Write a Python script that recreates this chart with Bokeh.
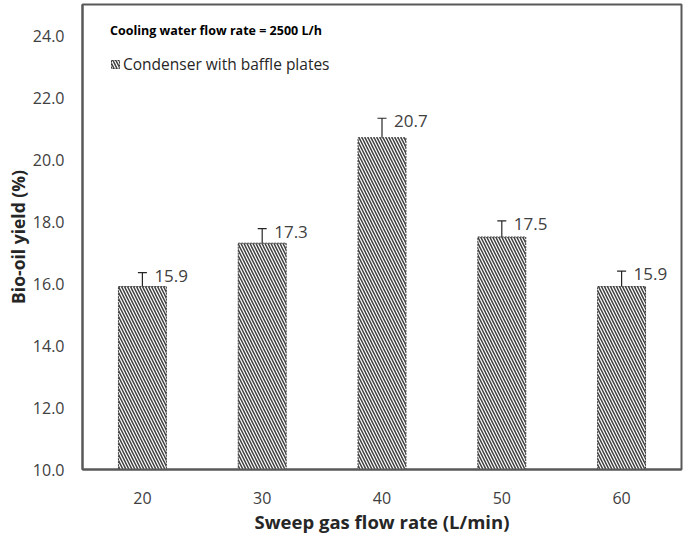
from bokeh.plotting import figure
from bokeh.models import (ColumnDataSource, Range1d, FixedTicker, PrintfTickFormatter,
                          Whisker, TeeHead, LabelSet, Legend, LegendItem)
from bokeh.core.properties import value
from bokeh.embed import file_html
from bokeh.resources import INLINE

categories = ["20", "30", "40", "50", "60"]
yields = [15.9, 17.3, 20.7, 17.5, 15.9]
errors = [0.45, 0.47, 0.63, 0.52, 0.5]
y_ticks = [10, 12, 14, 16, 18, 20, 22, 24]

FONT = "Open Sans"

src = ColumnDataSource(dict(
    x=categories,
    y=yields,
    upper=[v + e for v, e in zip(yields, errors)],
    lower=[v - e for v, e in zip(yields, errors)],
    label=[f"{v:.1f}" for v in yields],
))

p = figure(x_range=categories, y_range=Range1d(10, 25), width=685, height=539,
           output_backend="svg", toolbar_location=None,
           min_border_left=82, min_border_right=4, min_border_top=4, min_border_bottom=70)

bars = p.vbar(x="x", top="y", bottom=0, width=0.4, source=src,
              fill_color="white", line_color="#3a3a3a", line_width=1, line_dash="2 1",
              hatch_pattern="left_diagonal_line", hatch_color="#404040",
              hatch_scale=6, hatch_weight=1.5)

wh = Whisker(base="x", upper="upper", lower="lower", source=src,
             line_color="#262626", line_width=1.2,
             upper_head=TeeHead(size=9, line_color="#262626", line_width=1.2),
             lower_head=TeeHead(size=9, line_color="#262626", line_width=1.2))
p.add_layout(wh)

labels = LabelSet(x="x", y="upper", text="label", source=src,
                  x_offset=12, y_offset=-3, text_baseline="middle",
                  text_font=value(FONT), text_font_size="17px", text_color="#404040")
p.add_layout(labels)

legend = Legend(items=[LegendItem(label="Condenser with baffle plates", renderers=[bars])],
                location=(28, 394), title="Cooling water flow rate = 2500 L/h",
                title_text_font=FONT, title_text_font_style="bold",
                title_text_font_size="12.5px", title_text_color="#000000",
                title_standoff=14,
                label_text_font=FONT, label_text_font_size="15.5px", label_text_color="#262626",
                glyph_width=10, glyph_height=10, label_standoff=3,
                padding=5, margin=0, border_line_color=None, background_fill_alpha=0)
p.add_layout(legend)

p.xgrid.grid_line_color = None
p.ygrid.grid_line_color = None
p.outline_line_color = "#595959"
p.outline_line_width = 2

p.yaxis.ticker = FixedTicker(ticks=y_ticks)
p.yaxis.formatter = PrintfTickFormatter(format="%.1f")
p.yaxis.axis_label = "Bio-oil yield (%)"
p.xaxis.axis_label = "Sweep gas flow rate (L/min)"

for ax in (p.xaxis[0], p.yaxis[0]):
    ax.axis_line_color = "#595959"
    ax.axis_line_width = 2
    ax.major_tick_line_color = None
    ax.minor_tick_line_color = None
    ax.major_label_text_font = FONT
    ax.major_label_text_font_size = "16px"
    ax.major_label_text_color = "#404040"
    ax.axis_label_text_font = FONT
    ax.axis_label_text_font_style = "bold"
    ax.axis_label_text_font_size = "18.5px"
    ax.axis_label_text_color = "#262626"

p.yaxis.major_tick_out = 0
p.yaxis.major_tick_in = 0
p.yaxis.major_label_text_font_size = "16px"
p.yaxis.axis_label_text_font_size = "17.5px"
p.yaxis.major_label_standoff = 18
p.yaxis.axis_label_standoff = 0
p.xaxis.major_label_standoff = 16
p.xaxis.axis_label_standoff = 2

open("out.html", "w").write(file_html(p, INLINE))
